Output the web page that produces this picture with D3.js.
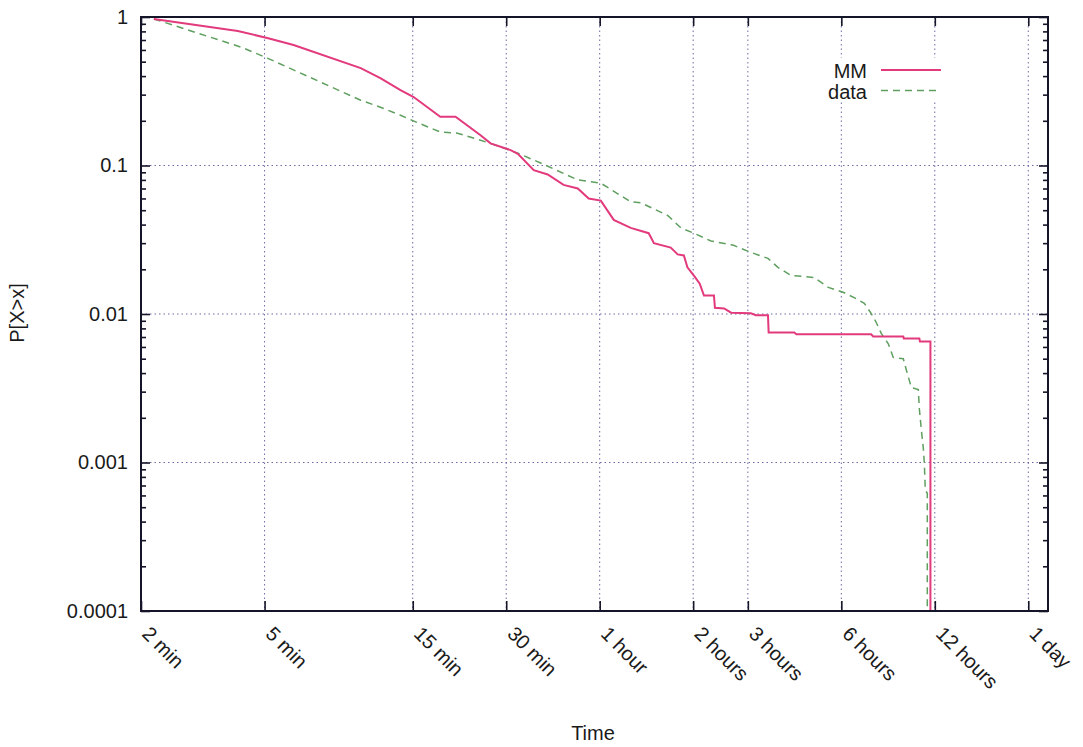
<!DOCTYPE html>
<html>
<head>
<meta charset="utf-8">
<script src="https://cdn.jsdelivr.net/npm/d3@7"></script>
<style>
  html, body { margin: 0; padding: 0; background: #fff; }
  svg { display: block; font-family: "Liberation Sans", Arial, Helvetica, sans-serif; }
</style>
</head>
<body>
<svg id="chart" width="1083" height="747"></svg>
<script>
// ---- data (time in minutes, survival probability) ----
const seriesNames = ["MM", "data"];

const mmTime = [2.2, 4.1, 5.1, 6.2, 10.2, 11.8, 13.7, 15.1, 18.4, 20.6, 24.8, 26.7, 31, 32.7, 36.8, 40.8, 45.9, 51, 55.3, 60.5,
  66.6, 75.5, 86.3, 89.7, 101.6, 107, 112, 115, 121, 126, 130, 140, 141, 151, 159, 184, 191, 209, 210, 254, 258, 449, 456, 570, 572,
  642, 645, 697, 697];
const mmProb = [0.97, 0.805, 0.722, 0.647, 0.453, 0.388, 0.322, 0.289, 0.213, 0.213, 0.160, 0.141, 0.127, 0.120, 0.093, 0.087, 0.074, 0.070, 0.060, 0.058,
  0.043, 0.038, 0.035, 0.030, 0.028, 0.0252, 0.0248, 0.0206, 0.0180, 0.0160, 0.0133, 0.0133, 0.0110, 0.0109, 0.0102, 0.0101, 0.0098, 0.0098, 0.0075, 0.0075, 0.0073, 0.0073, 0.00705, 0.00705, 0.00684,
  0.00684, 0.00652, 0.00652, 0.0001];

const dataTime = [2.2, 4.2, 5.1, 10.2, 11.8, 13.7, 15.4, 18.4, 20.9, 26.7, 32.7, 38.7, 51, 60.5, 75.5, 81.5, 99.5, 109.6, 120.7, 137,
  162, 184, 209, 225, 248, 294, 327, 365, 396, 427, 449, 466, 484, 510, 529, 570, 583, 605, 637, 642, 652, 661, 666, 671, 681, 681];
const dataProb = [0.97, 0.627, 0.529, 0.275, 0.247, 0.218, 0.196, 0.168, 0.165, 0.141, 0.121, 0.104, 0.080, 0.076, 0.057, 0.056, 0.046, 0.038, 0.035, 0.031,
  0.029, 0.026, 0.0237, 0.0206, 0.0182, 0.0176, 0.0151, 0.0140, 0.0129, 0.0118, 0.0101, 0.0088, 0.0074, 0.0063, 0.0051, 0.0050, 0.0042, 0.0032, 0.0031, 0.0023, 0.00164, 0.00126, 0.0010, 0.00065, 0.00062, 0.0001];

const xTickValues = [2, 5, 15, 30, 60, 120, 180, 360, 720, 1440];
const xTickLabels = ["2 min", "5 min", "15 min", "30 min", "1 hour", "2 hours", "3 hours", "6 hours", "12 hours", "1 day"];
const yTickValues = [0.0001, 0.001, 0.01, 0.1, 1];
const yTickLabels = ["0.0001", "0.001", "0.01", "0.1", "1"];
const xDomain = [2, 1666.7];
const yDomain = [0.0001, 1];

// ---- layout ----
const L = 141, R = 1048, T = 17, B = 611;
const svg = d3.select("#chart");
const x = d3.scaleLog().domain(xDomain).range([L, R]);
const y = d3.scaleLog().domain(yDomain).range([B, T]);

const gridColor = "#6b6ba3";
const axisColor = "#15152a";
const mmColor = "#e23a7c";
const dataColor = "#5f9f5f";

svg.append("defs").append("clipPath").attr("id", "clip")
  .append("rect").attr("x", L).attr("y", T).attr("width", R - L).attr("height", B - T);

// grid
const grid = svg.append("g");
grid.selectAll(".gx").data(xTickValues).join("line")
  .attr("x1", d => x(d)).attr("x2", d => x(d)).attr("y1", T).attr("y2", B)
  .attr("stroke", gridColor).attr("stroke-width", 1).attr("stroke-dasharray", "1.5,3");
grid.selectAll(".gy").data(yTickValues.slice(1, -1)).join("line")
  .attr("x1", L).attr("x2", R).attr("y1", d => y(d)).attr("y2", d => y(d))
  .attr("stroke", gridColor).attr("stroke-width", 1).attr("stroke-dasharray", "1.5,3");

// minor y ticks
const minorY = [];
for (let e = -4; e < 0; e++) for (let k = 2; k <= 9; k++) minorY.push(k * Math.pow(10, e));

function styleAxis(g) {
  g.select(".domain").remove();
  g.selectAll(".tick line").attr("stroke", axisColor).attr("stroke-width", 1.6);
  g.selectAll("text").attr("fill", "#1a1a1a").style("font-size", "20px");
}

// left major
svg.append("g").attr("transform", `translate(${L},0)`)
  .call(d3.axisLeft(y).tickValues(yTickValues).tickFormat((d, i) => yTickLabels[i]).tickSize(-9).tickPadding(13))
  .call(styleAxis);
svg.append("g").attr("transform", `translate(${L},0)`)
  .call(d3.axisLeft(y).tickValues(minorY).tickFormat("").tickSize(-5))
  .call(styleAxis);
// right
svg.append("g").attr("transform", `translate(${R},0)`)
  .call(d3.axisRight(y).tickValues(yTickValues).tickFormat("").tickSize(-9))
  .call(styleAxis);
svg.append("g").attr("transform", `translate(${R},0)`)
  .call(d3.axisRight(y).tickValues(minorY).tickFormat("").tickSize(-5))
  .call(styleAxis);
// top
svg.append("g").attr("transform", `translate(0,${T})`)
  .call(d3.axisTop(x).tickValues(xTickValues).tickFormat("").tickSize(-9))
  .call(styleAxis);
// bottom
const bx = svg.append("g").attr("transform", `translate(0,${B})`)
  .call(d3.axisBottom(x).tickValues(xTickValues).tickFormat("").tickSize(-10))
  .call(styleAxis);

// rotated x labels
svg.append("g").selectAll("text").data(xTickValues).join("text")
  .attr("transform", d => `translate(${x(d)},${B + 24}) rotate(45)`)
  .attr("text-anchor", "start")
  .attr("fill", "#1a1a1a")
  .style("font-size", "20px")
  .text((d, i) => xTickLabels[i]);

// lines
const line = d3.line().x(d => x(d[0])).y(d => y(d[1]));
const plot = svg.append("g").attr("clip-path", "url(#clip)");
plot.append("path").datum(dataTime.map((t, i) => [t, dataProb[i]]))
  .attr("d", line).attr("fill", "none").attr("stroke", dataColor)
  .attr("stroke-width", 1.5).attr("stroke-dasharray", "7,5");
plot.append("path").datum(mmTime.map((t, i) => [t, mmProb[i]]))
  .attr("d", line).attr("fill", "none").attr("stroke", mmColor)
  .attr("stroke-width", 2);

// frame
svg.append("rect").attr("x", L).attr("y", T).attr("width", R - L).attr("height", B - T)
  .attr("fill", "none").attr("stroke", axisColor).attr("stroke-width", 2);

// legend
const lg = svg.append("g");
lg.append("rect").attr("x", 824).attr("y", 58).attr("width", 122).attr("height", 44).attr("fill", "#fff");
const legendColors = [mmColor, dataColor];
seriesNames.forEach((name, i) => {
  const yy = 78 + i * 20.5;
  lg.append("text").attr("x", 867).attr("y", yy).attr("text-anchor", "end")
    .attr("fill", "#1a1a1a").style("font-size", "20px").text(name);
  lg.append("line").attr("x1", 881).attr("x2", 941).attr("y1", yy - 8).attr("y2", yy - 8)
    .attr("stroke", legendColors[i]).attr("stroke-width", i === 0 ? 2 : 1.5)
    .attr("stroke-dasharray", i === 0 ? null : "7,5");
});

// axis titles
svg.append("text").attr("x", 593).attr("y", 740).attr("text-anchor", "middle")
  .attr("fill", "#1a1a1a").style("font-size", "20px").text("Time");
svg.append("text").attr("transform", "translate(24,313) rotate(-90)").attr("text-anchor", "middle")
  .attr("fill", "#1a1a1a").style("font-size", "20px").text("P[X>x]");
</script>
</body>
</html>
